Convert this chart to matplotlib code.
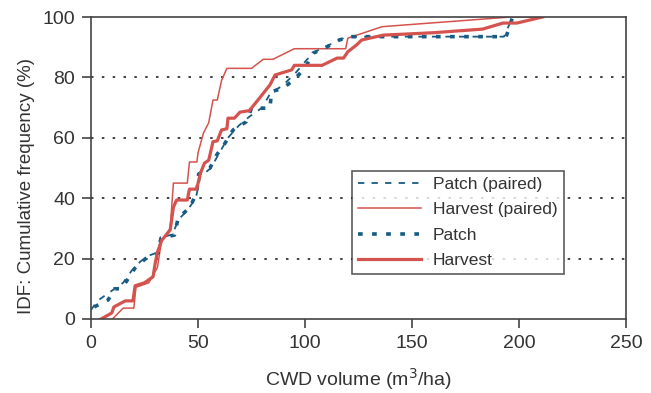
import matplotlib.pyplot as plt

plt.rcParams['font.family'] = ['Liberation Sans', 'DejaVu Sans']

# CWD volume (m3/ha) vs cumulative frequency (%)
patch_paired_x = [0, 3, 7, 11, 15, 19, 23, 27, 31, 33, 38, 41, 45, 49, 51, 56, 60, 64, 69, 74, 80, 84, 89, 95, 101, 106, 112, 118, 125, 150, 175, 193, 197]
patch_paired_y = [3, 6, 8, 10, 12, 16, 19, 21, 22, 27, 28, 33, 36, 40, 47, 50, 55, 60, 64, 67, 70, 75, 77, 81, 86, 89, 91, 93, 93.5, 93.5, 93.5, 93.5, 100]

harvest_paired_x = [10, 15, 20, 21, 27, 31, 33, 37, 38.5, 45, 46, 49.5, 50, 52.5, 55, 57, 59, 61, 63.5, 75, 80.5, 85, 95, 119, 120, 136, 196, 210]
harvest_paired_y = [0, 3.6, 3.6, 10.5, 12, 17, 26, 30, 45, 45, 52, 52, 55, 61.5, 65, 72.5, 72.5, 79, 83, 83, 86, 86, 89.5, 89.5, 93, 96.8, 100, 100]

patch_x = [1.5, 8, 11, 14, 16.5, 20.5, 25.5, 28, 31.3, 32.7, 39, 40.7, 46.3, 49.4, 50.3, 55.6, 58.7, 62.6, 66.4, 72.5, 75, 83.6, 84.4, 89.7, 94.4, 100, 103.7, 110, 116, 122, 150, 175, 194, 197]
patch_y = [4, 6.3, 10, 10, 12.4, 16.8, 20, 20.6, 21.8, 26.8, 27.8, 33.4, 37, 42, 48, 50, 54.3, 58.2, 62.6, 65.3, 69.8, 69.8, 75.3, 76.4, 79, 83, 88, 90, 92.4, 93.5, 93.5, 93.5, 93.5, 100]

harvest_x = [4.7, 9.7, 10.7, 16, 19.6, 20.6, 25, 29, 30, 31, 33, 37, 38.5, 40, 45, 46, 49.4, 51, 53, 55, 57, 59, 61, 63.5, 64, 67, 69.6, 74, 78, 83.6, 86, 93.8, 95, 108, 115, 118, 120, 124, 126.5, 136.5, 160, 183, 192.5, 199, 211]
harvest_y = [0, 2, 4, 6, 6, 11, 12, 14, 18.5, 22, 26, 29.5, 37, 39.4, 39.4, 43, 43, 48, 51.6, 52.6, 58.7, 59, 62.6, 63, 66.5, 66.5, 68.5, 69, 72.5, 77.5, 80.8, 82.5, 84, 84, 86.4, 86.4, 88.5, 90.7, 92.4, 94, 94.8, 96, 98, 98, 100]

red = '#d4534e'
blue = '#185c84'
txt = '#333333'

fig = plt.figure(figsize=(6.51, 3.93), dpi=100)
ax = fig.add_axes([0.1398, 0.1883, 0.8218, 0.7684])

ax.plot(patch_paired_x, patch_paired_y, color=blue, lw=1.3, linestyle=(0, (3.5, 4)), label='Patch (paired)')
ax.plot(harvest_paired_x, harvest_paired_y, color=red, lw=1.1, label='Harvest (paired)')
ax.plot(patch_x, patch_y, color=blue, lw=2.6, linestyle=(0, (1.3, 2.6)), label='Patch')
ax.plot(harvest_x, harvest_y, color=red, lw=2.3, label='Harvest')

ax.set_xlim(0, 250)
ax.set_ylim(0, 100)
ax.set_xticks(range(0, 251, 50))
ax.set_yticks(range(0, 101, 20))
for y in [20, 40, 60, 80]:
    ax.axhline(y, color='#222222', lw=1.2, linestyle=(0, (1.5, 5)), zorder=0)

for s in ax.spines.values():
    s.set_color('#444444')
    s.set_linewidth(1.2)
ax.tick_params(direction='out', length=6.5, width=1.2, color='#444444', labelsize=14, labelcolor=txt, pad=5)

ax.set_xlabel('CWD volume (m$^3$/ha)', fontsize=14, color=txt, labelpad=10)
ax.set_ylabel('IDF: Cumulative frequency (%)', fontsize=13.5, color=txt, labelpad=8)
ax.yaxis.set_label_coords(-0.105, 0.44)

leg = ax.legend(loc='upper left', bbox_to_anchor=(0.488, 0.49), fontsize=12.5, frameon=True, fancybox=False,
                handlelength=3.6, handletextpad=0.7, labelspacing=0.58, borderpad=0.35, borderaxespad=0)
leg.get_frame().set_edgecolor('#333333')
leg.get_frame().set_linewidth(1.2)
for t in leg.get_texts():
    t.set_color(txt)

fig.savefig('out.png', dpi=100)
